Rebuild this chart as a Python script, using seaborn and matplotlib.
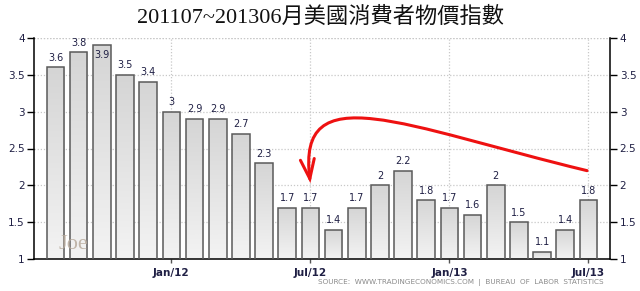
import numpy as np
import pandas as pd
import matplotlib
matplotlib.use("Agg")
import matplotlib.pyplot as plt
import seaborn as sns
from matplotlib.path import Path
from matplotlib.patches import FancyArrowPatch

# ---- data ----
months = ["2011-07", "2011-08", "2011-09", "2011-10", "2011-11", "2011-12",
          "2012-01", "2012-02", "2012-03", "2012-04", "2012-05", "2012-06",
          "2012-07", "2012-08", "2012-09", "2012-10", "2012-11", "2012-12",
          "2013-01", "2013-02", "2013-03", "2013-04", "2013-05", "2013-06"]
cpi = [3.6, 3.8, 3.9, 3.5, 3.4, 3.0, 2.9, 2.9, 2.7, 2.3, 1.7, 1.7,
       1.4, 1.7, 2.0, 2.2, 1.8, 1.7, 1.6, 2.0, 1.5, 1.1, 1.4, 1.8]
tick_months = ["2011-12", "2012-06", "2012-12", "2013-06"]
tick_labels = ["Jan/12", "Jul/12", "Jan/13", "Jul/13"]
y_ticks = [1, 1.5, 2, 2.5, 3, 3.5, 4]
y_tick_labels = ["1", "1.5", "2", "2.5", "3", "3.5", "4"]
title = "201107~201306月美國消費者物價指數"
source = "SOURCE:  WWW.TRADINGECONOMICS.COM  |  BUREAU  OF  LABOR  STATISTICS"

df = pd.DataFrame({"month": months, "cpi": cpi})

sns.set_theme(style="white")
plt.rcParams["font.family"] = ["DejaVu Sans"]

fig = plt.figure(figsize=(6.4, 2.91), dpi=100)
ax = fig.add_axes([34.3 / 640, 1 - 259.3 / 291, (610 - 34.3) / 640, (259.3 - 37.7) / 291])

sns.barplot(data=df, x="month", y="cpi", ax=ax, color="#dddddd", width=0.76,
            saturation=1, edgecolor="#5a5a5a", linewidth=1.1, zorder=3)

ax.set_ylim(1, 4)
ax.set_xlim(-0.915, 23.93)

# gradient fill for bars
grad = np.linspace(0, 1, 64).reshape(-1, 1)
cmap = matplotlib.colors.LinearSegmentedColormap.from_list("g", ["#f3f3f3", "#d5d5d5"])
for p in list(ax.patches):
    x0, y0 = p.get_x(), p.get_y()
    w, h = p.get_width(), p.get_height()
    im = ax.imshow(grad, extent=[x0, x0 + w, 1, y0 + h], origin="lower",
                   aspect="auto", cmap=cmap, zorder=2.5, interpolation="bilinear")
    im.set_clip_path(p)
    p.set_facecolor("none")
ax.set_xlim(-0.915, 23.93)
ax.set_ylim(1, 4)

# value labels
lab_color = "#1f1f44"
for i, v in enumerate(cpi):
    s = f"{v:g}"
    if v > 3.85:
        ax.text(i, v - 0.135, s, ha="center", va="center", fontsize=7, color=lab_color, zorder=5)
    else:
        ax.text(i, v + 0.13, s, ha="center", va="center", fontsize=7, color=lab_color, zorder=5)

# ticks & grid
pos = [months.index(m) for m in tick_months]
ax.set_xticks(pos)
ax.set_xticklabels(tick_labels, fontsize=7.5, fontweight="bold", color=lab_color)
ax.set_yticks(y_ticks)
ax.set_yticklabels(y_tick_labels, fontsize=7.5, color=lab_color)
ax.tick_params(axis="y", which="both", left=True, right=True, labelleft=True,
               labelright=True, direction="out", length=5, width=1, color="black", pad=2)
ax.tick_params(axis="x", bottom=True, direction="out", length=3, width=1,
               color="#555555", pad=3)
ax.grid(True, linestyle=(0, (1, 1.5)), color="#c8c8c8", linewidth=0.9, zorder=0)
ax.set_axisbelow(True)
ax.set_xlabel("")
ax.set_ylabel("")
for side in ["left", "right", "bottom"]:
    ax.spines[side].set_visible(True)
    ax.spines[side].set_color("black")
    ax.spines[side].set_linewidth(1.1)
ax.spines["top"].set_visible(False)
ax.axhline(4, linestyle=(0, (1, 1.5)), color="#c8c8c8", linewidth=0.9, zorder=0)

# red curved arrow annotation
verts = [(22.94, 2.2), (15.0, 2.8), (10.4, 3.5), (11.0, 2.03)]
codes = [Path.MOVETO, Path.CURVE4, Path.CURVE4, Path.CURVE4]
arrow = FancyArrowPatch(path=Path(verts, codes), arrowstyle="->,head_length=14,head_width=5",
                        color="#ee1111", linewidth=2.2, mutation_scale=1, zorder=6,
                        joinstyle="miter", capstyle="round")
ax.add_patch(arrow)

# watermark
ax.text(0.75, 1.2, "Joe", fontsize=16, family="Liberation Serif", color="#b8ab9d",
        ha="center", va="center", zorder=6, alpha=0.85)

# title and source
fig.text(0.5, 1 - 17 / 291, title, ha="center", va="center", fontsize=16,
         family=["Liberation Serif", "Noto Sans CJK TC"], color="#111111")
fig.text(604 / 640, 1 - 283 / 291, source, ha="right", va="center", fontsize=5.2,
         color="#8a8a8a")

fig.savefig("out.png", dpi=100, facecolor="white")
